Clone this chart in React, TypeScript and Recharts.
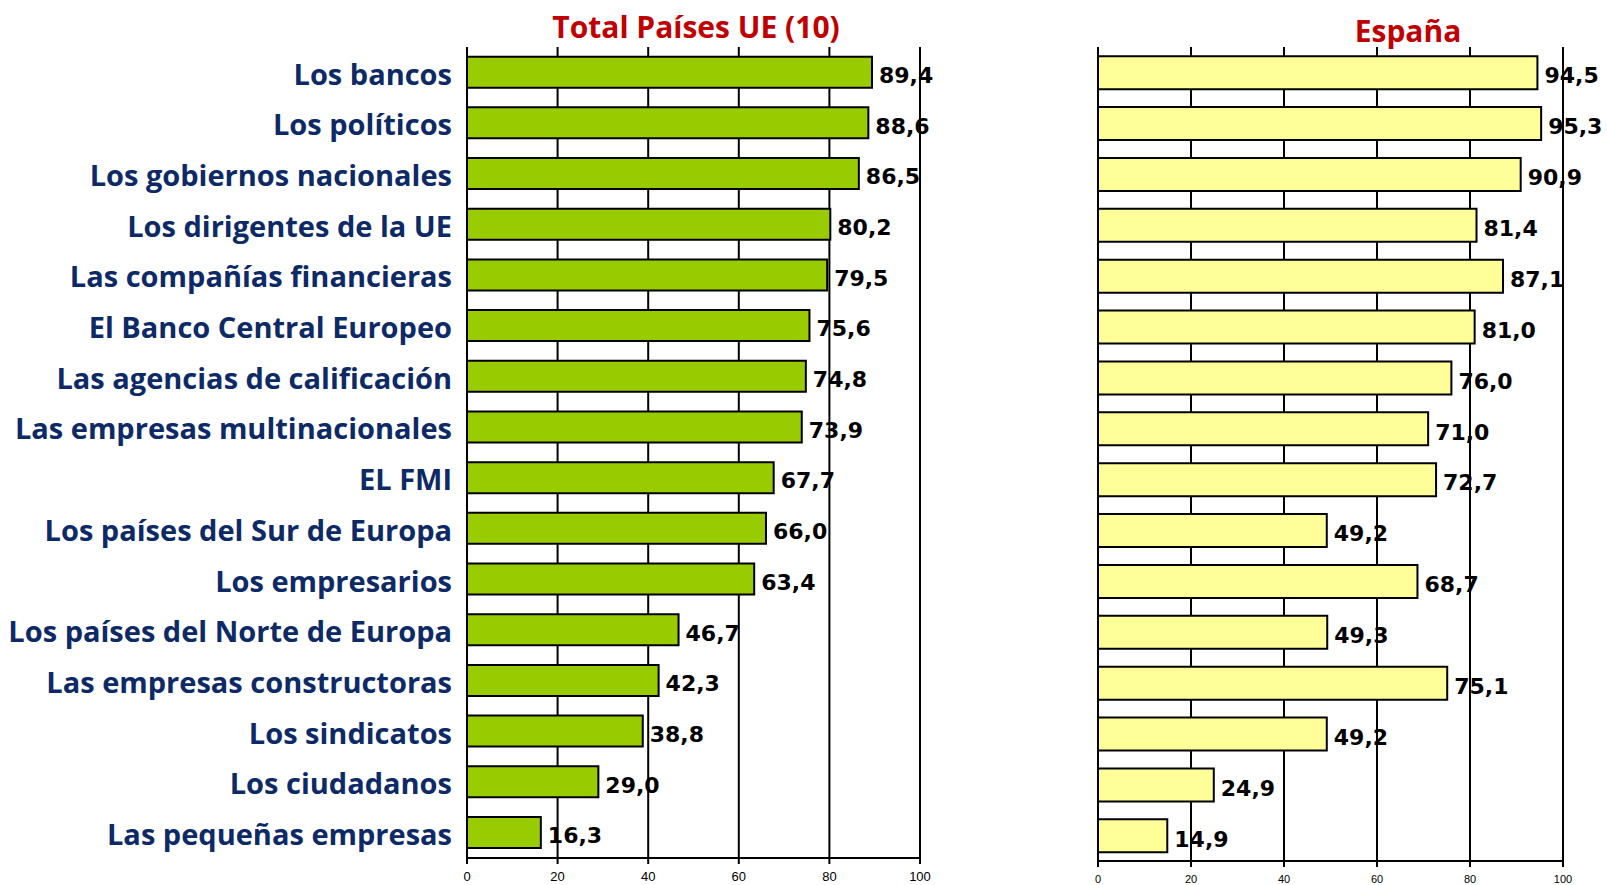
import { Bar, BarChart, CartesianGrid, LabelList, XAxis, YAxis } from 'recharts';

const CATEGORIES = [
  'Los bancos',
  'Los políticos',
  'Los gobiernos nacionales',
  'Los dirigentes de la UE',
  'Las compañías financieras',
  'El Banco Central Europeo',
  'Las agencias de calificación',
  'Las empresas multinacionales',
  'EL FMI',
  'Los países del Sur de Europa',
  'Los empresarios',
  'Los países del Norte de Europa',
  'Las empresas constructoras',
  'Los sindicatos',
  'Los ciudadanos',
  'Las pequeñas empresas',
];

const UE_VALUES = [89.4, 88.6, 86.5, 80.2, 79.5, 75.6, 74.8, 73.9, 67.7, 66.0, 63.4, 46.7, 42.3, 38.8, 29.0, 16.3];
const ES_VALUES = [94.5, 95.3, 90.9, 81.4, 87.1, 81.0, 76.0, 71.0, 72.7, 49.2, 68.7, 49.3, 75.1, 49.2, 24.9, 14.9];
const TICKS = [0, 20, 40, 60, 80, 100];

const data = CATEGORIES.map((name, i) => ({ name, ue: UE_VALUES[i], es: ES_VALUES[i] }));

const fmt = (v: unknown) => Number(v).toFixed(1).replace('.', ',');

const labelStyle = {
  fill: '#000',
  fontFamily: '"DejaVu Sans", sans-serif',
  fontWeight: 'bold',
  fontSize: 22,
};

const titleStyle = {
  position: 'absolute' as const,
  color: '#C00000',
  fontFamily: '"Open Sans", sans-serif',
  fontWeight: 'bold',
  fontSize: 30,
  lineHeight: '32px',
  transform: 'translateX(-50%)',
  whiteSpace: 'nowrap' as const,
};

export default function App() {
  return (
    <div style={{ position: 'absolute', left: 0, top: 0, width: 1607, height: 885, background: '#fff' }}>
      <div style={{ ...titleStyle, left: 696, top: 11 }}>Total Países UE (10)</div>
      <div style={{ ...titleStyle, left: 1408, top: 15 }}>España</div>

      <div style={{ position: 'absolute', left: 0, top: 0 }}>
        <BarChart
          width={940}
          height={885}
          data={data}
          layout="vertical"
          margin={{ top: 47, right: 20, bottom: 0, left: 0 }}
          barCategoryGap="19%"
        >
          <CartesianGrid horizontal={false} stroke="#000" strokeWidth={2} />
          <XAxis
            type="number"
            domain={[0, 100]}
            ticks={TICKS}
            height={27}
            axisLine={{ stroke: '#000', strokeWidth: 2 }}
            tickLine={{ stroke: '#000', strokeWidth: 2 }}
            tickSize={6}
            tickMargin={8}
            tick={{ fill: '#000', fontSize: 13, fontFamily: '"Liberation Sans", Arial, sans-serif' }}
          />
          <YAxis
            type="category"
            dataKey="name"
            width={467}
            axisLine={false}
            tickLine={false}
            tickMargin={9}
            tick={{ fill: '#0D2A66', fontSize: 29, fontWeight: 'bold', fontFamily: '"Open Sans", sans-serif', dy: 2 }}
          />
          <Bar dataKey="ue" fill="#99CC00" stroke="#000" strokeWidth={2} isAnimationActive={false}>
            <LabelList dataKey="ue" position="right" offset={7} dy={3} formatter={fmt} style={labelStyle} />
          </Bar>
        </BarChart>
      </div>

      <div style={{ position: 'absolute', left: 1060, top: 0 }}>
        <BarChart
          width={547}
          height={885}
          data={data}
          layout="vertical"
          margin={{ top: 47, right: 44, bottom: 0, left: 38 }}
          barCategoryGap="18%"
        >
          <CartesianGrid horizontal={false} stroke="#000" strokeWidth={2} />
          <XAxis
            type="number"
            domain={[0, 100]}
            ticks={TICKS}
            height={24}
            axisLine={{ stroke: '#000', strokeWidth: 2 }}
            tickLine={{ stroke: '#000', strokeWidth: 2 }}
            tickSize={6}
            tickMargin={8}
            tick={{ fill: '#000', fontSize: 11, fontFamily: '"Liberation Sans", Arial, sans-serif' }}
          />
          <YAxis type="category" dataKey="name" hide />
          <Bar dataKey="es" fill="#FFFF99" stroke="#000" strokeWidth={2} isAnimationActive={false}>
            <LabelList dataKey="es" position="right" offset={7} dy={3} formatter={fmt} style={labelStyle} />
          </Bar>
        </BarChart>
      </div>
    </div>
  );
}
